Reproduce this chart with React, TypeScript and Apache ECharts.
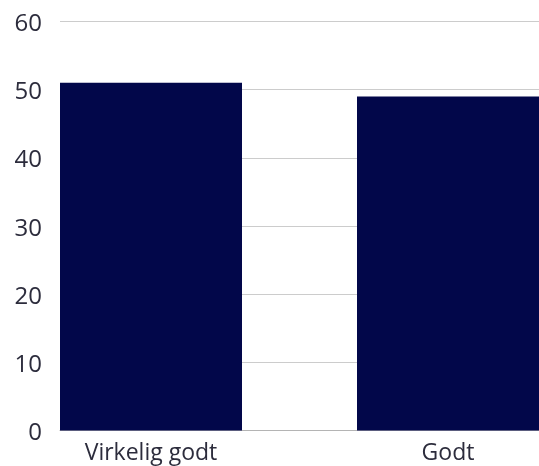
import React, { useEffect, useRef } from "react";
import * as echarts from "echarts";

const categories = ["Virkelig godt", "Godt"];
const values = [51, 49];
const yTicks = { min: 0, max: 60, interval: 10 };

export default function App() {
  const ref = useRef<HTMLDivElement>(null);
  useEffect(() => {
    if (!ref.current) return;
    const chart = echarts.init(ref.current, null, { renderer: "svg" });
    const font = "'Open Sans', sans-serif";
    const textColor = "#2c2c3c";
    chart.setOption({
      animation: false,
      grid: [
        { left: 60, right: 0, top: 21.5, bottom: 35.5 },
        { left: 151, right: 91, top: 21.5, bottom: 35.5 },
      ],
      xAxis: [
        {
          type: "category",
          gridIndex: 0,
          data: categories,
          axisLine: { show: true, lineStyle: { color: "#b4b4b4", width: 1 } },
          axisTick: { show: false },
          axisLabel: { show: false },
        },
        {
          type: "category",
          gridIndex: 1,
          data: categories,
          boundaryGap: false,
          axisLine: { show: false },
          axisTick: { show: false },
          axisLabel: {
            show: true,
            interval: 0,
            margin: 7,
            fontSize: 23,
            lineHeight: 26,
            fontFamily: font,
            color: textColor,
          },
        },
      ],
      yAxis: [
        {
          type: "value",
          gridIndex: 0,
          min: yTicks.min,
          max: yTicks.max,
          interval: yTicks.interval,
          axisLine: { show: false },
          axisTick: { show: false },
          splitLine: { show: true, lineStyle: { color: "#cccccc", width: 1 } },
          axisLabel: {
            margin: 18,
            fontSize: 24,
            fontFamily: font,
            color: textColor,
          },
        },
        {
          type: "value",
          gridIndex: 1,
          min: yTicks.min,
          max: yTicks.max,
          interval: yTicks.interval,
          show: false,
          splitLine: { show: false },
        },
      ],
      series: [
        {
          type: "bar",
          xAxisIndex: 1,
          yAxisIndex: 1,
          data: values,
          barWidth: 182,
          clip: false,
          itemStyle: { color: "#02074a" },
        },
      ],
    });
    return () => chart.dispose();
  }, []);
  return (
    <div
      ref={ref}
      style={{ position: "fixed", left: 0, top: 0, width: 539, height: 466 }}
    />
  );
}
